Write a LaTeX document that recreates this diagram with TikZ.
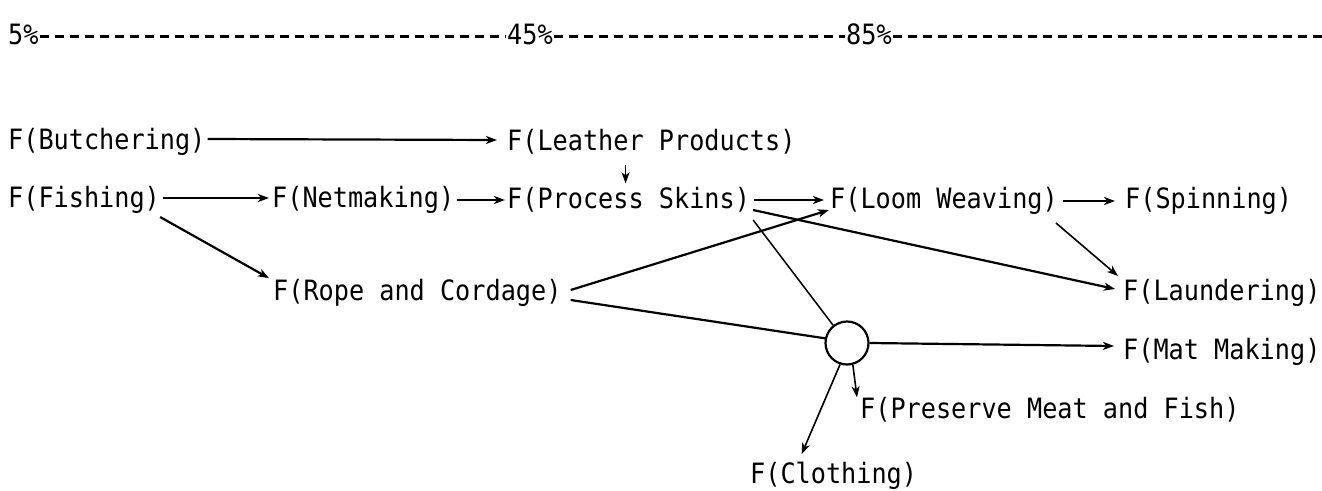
\documentclass[tikz,border=0pt]{standalone}
\usepackage{fontspec}
\newfontfamily\typewr[FakeStretch=0.9]{DejaVu Sans Mono}
\usetikzlibrary{arrows.meta,calc}
\tikzset{
  lbl/.style={anchor=west,inner sep=0pt,font=\typewr\fontsize{28}{32}\selectfont},
  arr/.style={line width=2.2pt,-{Stealth[length=11pt,width=8pt,inset=3pt]}},
  thinarr/.style={line width=1.6pt,-{Stealth[length=11pt,width=8pt,inset=3pt]}},
  ln/.style={line width=2.2pt},
  thinln/.style={line width=1.5pt},
  dashln/.style={line width=3pt,dash pattern=on 9pt off 6pt},
}
\begin{document}
\begin{tikzpicture}[x=1pt,y=-1pt]
\useasboundingbox (0,0) rectangle (1322,490);
% top scale
\node[lbl] (p5) at (8,34) {5\%};
\node[lbl] (p45) at (507,34) {45\%};
\node[lbl] (p85) at (846,34) {85\%};
\coordinate (pend) at (1322,36);
\draw[dashln] ($(p5.east)+(1,2)$) -- ($(p45.west)+(-1,2)$);
\draw[dashln] ($(p45.east)+(1,2)$) -- ($(p85.west)+(-1,2)$);
\draw[dashln] ($(p85.east)+(1,2)$) -- (pend);
% nodes
\node[lbl] (butch) at (8,142) {F(Butchering)};
\node[lbl] (leather) at (507,142) {F(Leather Products)};
\node[lbl] (fish) at (8,200) {F(Fishing)};
\node[lbl] (net) at (272,200) {F(Netmaking)};
\node[lbl] (skins) at (507,200) {F(Process Skins)};
\node[lbl] (loom) at (830,201) {F(Loom Weaving)};
\node[lbl] (spin) at (1125,201) {F(Spinning)};
\node[lbl] (rope) at (273,293) {F(Rope and Cordage)};
\node[lbl] (laund) at (1123,293) {F(Laundering)};
\node[draw,circle,line width=2.2pt,minimum size=43pt,inner sep=0pt] (circ) at (847,343) {};
\node[lbl] (mat) at (1123,352) {F(Mat Making)};
\node[lbl] (pres) at (860,410) {F(Preserve Meat and Fish)};
\node[lbl] (cloth) at (750,476) {F(Clothing)};
% connectors
\draw[arr] ($(butch.east)+(2,-3)$) -- ($(leather.west)+(-10,-2)$);
\draw[thinarr] ($(skins.north)+(-3,-22)$) -- ($(skins.north)+(-3,-4)$);
\draw[arr] ($(fish.east)+(3,-2)$) -- ($(net.west)+(-3,-2)$);
\draw[arr] ($(net.east)+(3,0)$) -- ($(skins.west)+(-2,0)$);
\draw[arr] ($(skins.east)+(4,0)$) -- ($(loom.west)+(-6,-1)$);
\draw[arr] ($(loom.east)+(5,0)$) -- ($(spin.west)+(-10,0)$);
\draw[arr] ($(fish.east)+(0,17)$) -- ($(rope.north west)+(-4,-1)$);
\draw[arr] ($(skins.east)+(3,10)$) -- ($(laund.west)+(-8,-4)$);
\draw[thinln] ($(skins.east)+(3,20)$) -- (circ.128);
\draw[arr] ($(rope.east)+(9,-3)$) -- ($(loom.west)+(-1,9)$);
\draw[ln] ($(rope.east)+(9,7)$) -- (circ.168);
\draw[thinarr] ($(loom.east)+(-2,22)$) -- ($(laund.west)+(-5,-17)$);
\draw[arr] (circ.east) -- ($(mat.west)+(-9,-6)$);
\draw[thinarr] (circ.-75) -- ($(pres.north west)+(-3,0)$);
\draw[thinarr] (circ.-108) -- ($(cloth.north)+(-32,-8)$);
\end{tikzpicture}
\end{document}
